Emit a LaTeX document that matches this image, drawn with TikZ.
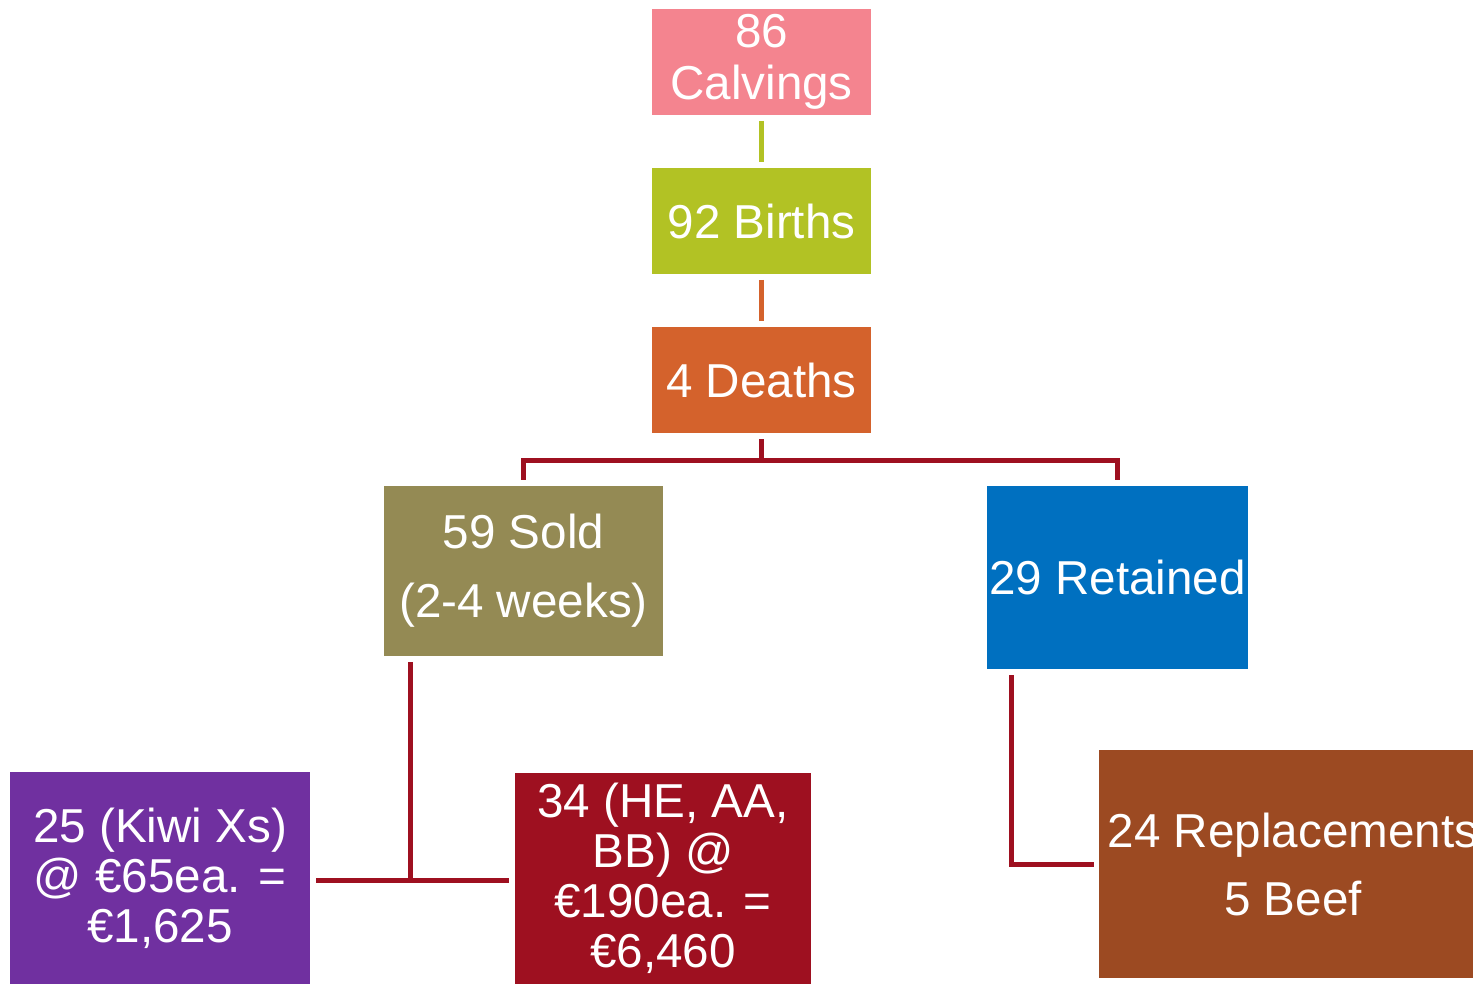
\documentclass[tikz,border=0pt]{standalone}
\usepackage{fontspec}
\setmainfont{Liberation Sans}
\definecolor{cpink}{HTML}{F4848F}
\definecolor{cgreen}{HTML}{B2C224}
\definecolor{corange}{HTML}{D4622C}
\definecolor{colive}{HTML}{948A54}
\definecolor{cblue}{HTML}{0070C0}
\definecolor{cpurple}{HTML}{7030A0}
\definecolor{cred}{HTML}{9E1020}
\definecolor{cbrown}{HTML}{9C4A22}
\definecolor{cline}{HTML}{9E1020}
\begin{document}
\begin{tikzpicture}[x=1pt,y=-1pt,
  box/.style={rectangle,inner sep=0pt,outer sep=0pt,text=white,align=center,
    font=\fontsize{47.6}{52}\selectfont},
  conn/.style={line width=5pt,draw=cline},
]
\useasboundingbox (0,0) rectangle (1473,984);
\clip (0,0) rectangle (1473,984);
\node[box,fill=cpink,minimum width=219pt,minimum height=106pt] (calv) at (761.5,62) {86\\Calvings};
\node[box,fill=cgreen,minimum width=219pt,minimum height=106pt] (birth) at (761.5,221) {92 Births};
\node[box,fill=corange,minimum width=219pt,minimum height=106pt] (death) at (761.5,380) {4 Deaths};
\node[box,fill=colive,minimum width=279pt,minimum height=170pt,font=\fontsize{47.6}{69}\selectfont] (sold) at (523.5,571) {59 Sold\\(2-4 weeks)};
\node[box,fill=cblue,minimum width=261pt,minimum height=183pt] (ret) at (1117.5,577.5) {29 Retained};
\node[box,fill=cpurple,minimum width=300pt,minimum height=213pt,font=\fontsize{47.6}{50}\selectfont] (kiwi) at (160,878) {25 (Kiwi Xs)\\@ €65ea. =\\€1,625};
\node[box,fill=cred,minimum width=296pt,minimum height=211pt,font=\fontsize{47.6}{50}\selectfont] (he) at (663,878.5) {34 (HE, AA,\\BB) @\\€190ea. =\\€6,460};
\node[box,fill=cbrown,minimum width=388pt,minimum height=228pt,font=\fontsize{47.6}{68}\selectfont] (rep) at (1293,864) {24 Replacements\\5 Beef};
% connectors
\draw[line width=5pt,draw=cgreen,shorten <=6pt,shorten >=6pt] (calv.south) -- (birth.north);
\draw[line width=5pt,draw=corange,shorten <=6pt,shorten >=6pt] (birth.south) -- (death.north);
\coordinate (dj) at (761.5,460);
\draw[conn,shorten <=6pt] (death.south) -- (dj);
\draw[conn,shorten >=6pt] (dj) -| (sold.north);
\draw[conn,shorten >=6pt] (dj) -| (ret.north);
\coordinate (sj) at (410,880);
\draw[conn,shorten <=6pt] ([xshift=26pt]sold.south west) -- (sj);
\draw[conn,shorten <=6pt,shorten >=6pt] (kiwi.east |- sj) -- (he.west |- sj);
\draw[conn,shorten <=6pt,shorten >=5pt] ([xshift=24pt]ret.south west) |- (rep.west);
\end{tikzpicture}
\end{document}
